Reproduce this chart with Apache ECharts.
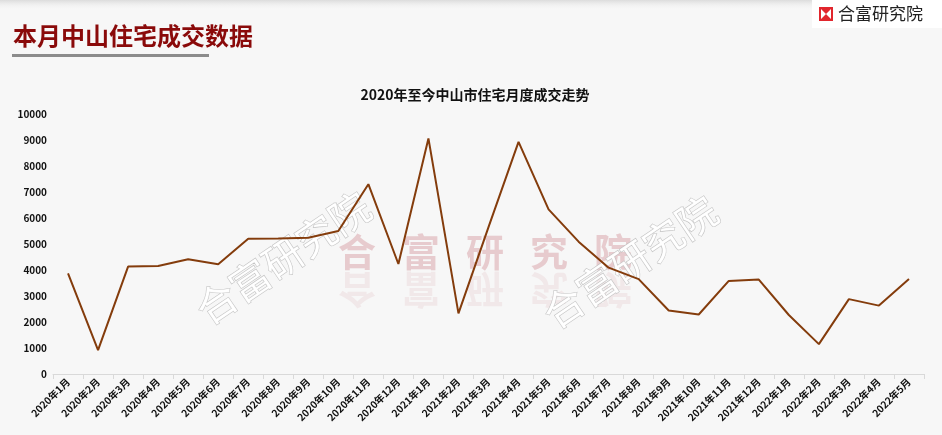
<!DOCTYPE html>
<html>
<head>
<meta charset="utf-8">
<script src="https://cdn.jsdelivr.net/npm/echarts@6/dist/echarts.min.js"></script>
<style>
html,body{margin:0;padding:0;background:#f7f7f7;}
#c{width:942px;height:435px;}
</style>
</head>
<body>
<div id="c"></div>
<script>
var pageTitle = '本月中山住宅成交数据';
var chartTitle = '2020年至今中山市住宅月度成交走势';
var brand = '合富研究院';
var categories = ['2020年1月','2020年2月','2020年3月','2020年4月','2020年5月','2020年6月','2020年7月','2020年8月','2020年9月','2020年10月','2020年11月','2020年12月','2021年1月','2021年2月','2021年3月','2021年4月','2021年5月','2021年6月','2021年7月','2021年8月','2021年9月','2021年10月','2021年11月','2021年12月','2022年1月','2022年2月','2022年3月','2022年4月','2022年5月'];
var volumes = [3870,920,4130,4150,4410,4220,5200,5210,5240,5500,7300,4230,9060,2330,5650,8930,6330,5090,4090,3650,2440,2290,3580,3630,2270,1150,2880,2630,3650];
var yTicks = {min:0, max:10000, interval:1000};

var FONT = '"Noto Sans CJK SC", sans-serif';
var chart = echarts.init(document.getElementById('c'), null, {renderer:'canvas'});

var wmChars = brand.split('');
var bigWm = [];
wmChars.forEach(function(ch, i){
  bigWm.push({
    type:'text', z:-10, silent:true,
    x: 357 + i*64, y: 252,
    style:{text:ch, font:'bold 38px ' + FONT, fill:'rgba(190,90,100,0.28)', align:'center', verticalAlign:'middle'}
  });
  bigWm.push({
    type:'text', z:-10, silent:true,
    x: 357 + i*64, y: 290, scaleY:-1,
    style:{text:ch, font:'bold 38px ' + FONT, fill:'rgba(190,90,100,0.09)', align:'center', verticalAlign:'middle'}
  });
});
function outlineWm(cx, cy){
  return {
    type:'text', z:-9, silent:true,
    x: cx, y: cy, rotation: 34*Math.PI/180,
    style:{text:brand, font:'40px ' + FONT, fill:'rgba(255,255,255,0.95)', stroke:'rgba(190,190,190,0.9)', lineWidth:1.2, align:'center', verticalAlign:'middle'}
  };
}

var option = {
  backgroundColor:'#f7f7f7',
  animation:false,
  title:{
    text: chartTitle, left: 470, top: 83, textAlign:'center',
    textStyle:{fontFamily:FONT, fontSize:14, fontWeight:'bold', color:'#111'}
  },
  grid:{left:53, right:18, top:114, bottom:61, containLabel:false},
  xAxis:{
    type:'category', data:categories, boundaryGap:true,
    axisLine:{lineStyle:{color:'#d9d9d9', width:1}},
    axisTick:{show:true, length:5, lineStyle:{color:'#d9d9d9'}},
    axisLabel:{interval:0, rotate:45, margin:6, fontFamily:FONT, fontSize:10, fontWeight:'bold', color:'#111'}
  },
  yAxis:{
    type:'value', min:yTicks.min, max:yTicks.max, interval:yTicks.interval,
    axisLine:{show:false}, axisTick:{show:false}, splitLine:{show:false},
    axisLabel:{margin:6, fontFamily:FONT, fontSize:10, fontWeight:'bold', color:'#111',
      formatter:function(v){return String(v);}}
  },
  series:[{
    type:'line', data:volumes, symbol:'none', z:5,
    lineStyle:{color:'#843C0C', width:2}
  }],
  graphic:[
    {type:'rect', z:-20, silent:true, shape:{x:0,y:0,width:942,height:10},
     style:{fill:new echarts.graphic.LinearGradient(0,0,0,1,[{offset:0,color:'#dcdcdc'},{offset:1,color:'rgba(247,247,247,0)'}])}},
    {type:'rect', z:1, shape:{x:812,y:0,width:130,height:28}, style:{fill:'#ffffff'}},
    {type:'rect', z:2, shape:{x:819,y:7,width:14,height:14}, style:{fill:'#e1262d'}},
    {type:'rect', z:3, shape:{x:821,y:9,width:10,height:10}, style:{fill:'#ffffff'}},
    {type:'polygon', z:4, shape:{points:[[821,9],[831,9],[826,14],[831,19],[821,19],[826,14]]}, style:{fill:'#e1262d'}},
    {type:'text', z:4, x:838, y:14, style:{text:brand, font:'17px ' + FONT, fill:'#222', verticalAlign:'middle'}},
    {type:'text', z:4, x:13, y:36, style:{text:pageTitle, font:'bold 24px ' + FONT, fill:'#8a0a0a', verticalAlign:'middle'}},
    {type:'rect', z:4, shape:{x:12,y:54,width:197,height:3}, style:{fill:'#8c8c8c'}}
  ].concat(bigWm).concat([outlineWm(283, 258), outlineWm(630, 262)])
};
chart.setOption(option);
</script>
</body>
</html>
